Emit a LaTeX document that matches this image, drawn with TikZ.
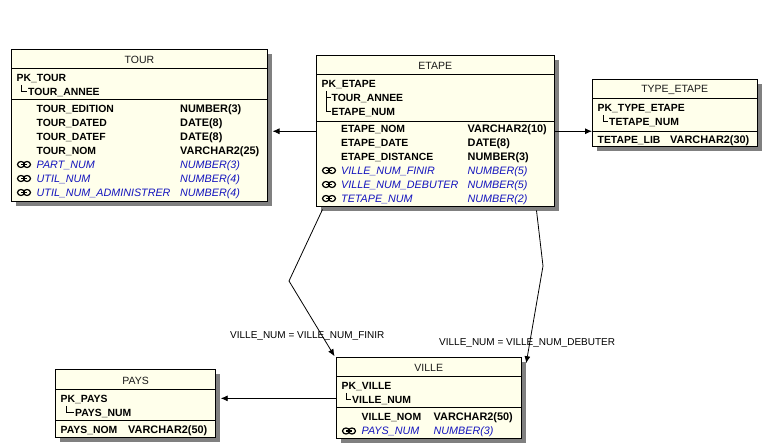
\documentclass[tikz,border=0pt]{standalone}
\usepackage{fontspec}
\setmainfont{Liberation Sans}
\usetikzlibrary{arrows.meta,shadows}
\definecolor{tablefill}{RGB}{255,255,235}
\definecolor{tableshade}{RGB}{128,128,128}
\definecolor{fkblue}{RGB}{20,20,190}
\tikzset{
    tablebox/.style={draw=black, line width=1pt, fill=tablefill, rectangle, inner sep=0pt,
        drop shadow={shadow xshift=4.5pt, shadow yshift=-4.5pt, fill=tableshade, opacity=1}},
    tabletitle/.style={font=\fontsize{10.5}{12}\selectfont, text=black!90, inner sep=0pt, yshift=-1pt},
    attr/.style={anchor=base west, inner sep=0pt, yshift=-1pt, font=\fontsize{10.4}{13}\selectfont\bfseries},
    attrtype/.style={attr, font=\fontsize{10.9}{13}\selectfont\bfseries},
    fkattr/.style={anchor=base west, inner sep=0pt, yshift=-1pt, text=fkblue, font=\fontsize{10.75}{13}\selectfont\itshape},
    fklabel/.style={anchor=base west, inner sep=0pt, yshift=-1pt, font=\fontsize{10}{12}\selectfont},
    fk/.style={line width=0.8pt, -{Latex[length=7pt,width=6pt]}}
}
\newcommand{\linkicon}[2]{%
    \draw[line width=1.2pt] (#1-3,#2) ellipse (3.5 and 3) (#1+3,#2) ellipse (3.5 and 3);
    \draw[line width=1.2pt] (#1-3,#2) -- (#1+3,#2);
}
\begin{document}
\begin{tikzpicture}[x=1pt,y=-1pt]
    \useasboundingbox (0,0) rectangle (764,446);

    % tables
    \node[tablebox, minimum width=256pt, minimum height=152pt] (tour) at (139.5,125.6) {};
    \node[tablebox, minimum width=237.5pt, minimum height=151.5pt] (etape) at (435.25,131.25) {};
    \node[tablebox, minimum width=164.5pt, minimum height=67.5pt] (typeetape) at (674.75,113.25) {};
    \node[tablebox, minimum width=184.5pt, minimum height=81.3pt] (ville) at (428.75,398.35) {};
    \node[tablebox, minimum width=160.2pt, minimum height=68pt] (pays) at (135.6,404) {};

    % header and key rules
    \foreach \tbl/\ya/\yb in {tour/68/99.5, etape/74.7/121, typeetape/98/131, ville/376/407, pays/389/420.7} {
        \draw[line width=0.9pt] (\tbl.west |- 0,\ya) -- (\tbl.east |- 0,\ya);
        \draw[line width=0.9pt] (\tbl.west |- 0,\yb) -- (\tbl.east |- 0,\yb);
    }

    % titles
    \node[tabletitle] (tourtitle) at (139.5,59) {TOUR};
    \node[tabletitle] (etapetitle) at (435.25,65) {ETAPE};
    \node[tabletitle] (typeetapetitle) at (674.75,89) {TYPE\_ETAPE};
    \node[tabletitle] (villetitle) at (428.75,367) {VILLE};
    \node[tabletitle] (paystitle) at (135.6,380) {PAYS};

    % primary keys
    \node[attr] (tourpk) at (16.5,81) {PK\_TOUR};
    \node[attr] (tourannee) at (28,95) {TOUR\_ANNEE};
    \draw (21,85) -- (21,91) -- (27,91);

    \node[attr] (etapepk) at (321.5,87) {PK\_ETAPE};
    \node[attr] (etapeannee) at (331.5,101) {TOUR\_ANNEE};
    \node[attr] (etapenum) at (331.5,115) {ETAPE\_NUM};
    \draw (326,91) -- (326,111) -- (331,111) (326,97) -- (331,97);

    \node[attr] (typepk) at (597.5,111) {PK\_TYPE\_ETAPE};
    \node[attr] (typenum) at (609,125) {TETAPE\_NUM};
    \draw (603,115) -- (603,121) -- (608,121);

    \node[attr] (villepk) at (341.5,389) {PK\_VILLE};
    \node[attr] (villenum) at (352,403) {VILLE\_NUM};
    \draw (346,393) -- (346,399) -- (351,399);

    \node[attr] (payspk) at (60.5,402) {PK\_PAYS};
    \node[attr] (paysnum) at (75,416) {PAYS\_NUM};
    \draw (66,406) -- (66,412) -- (74,412);

    % columns
    \foreach \i/\y/\colname/\coltype in {1/112/TOUR\_EDITION/NUMBER(3), 2/126/TOUR\_DATED/DATE(8),
        3/140/TOUR\_DATEF/DATE(8), 4/154/TOUR\_NOM/VARCHAR2(25)} {
        \node[attr] (tourname\i) at (36.5,\y) {\colname};
        \node[attrtype] (tourtype\i) at (180,\y) {\coltype};
    }
    \foreach \i/\y/\colname/\coltype in {5/168/PART\_NUM/NUMBER(3), 6/182/UTIL\_NUM/NUMBER(4),
        7/196/UTIL\_NUM\_ADMINISTRER/NUMBER(4)} {
        \node[fkattr] (tourname\i) at (36.5,\y) {\colname};
        \node[fkattr] (tourtype\i) at (180,\y) {\coltype};
        \linkicon{24}{\y-3.5}
    }
    \foreach \i/\y/\colname/\coltype in {1/132/ETAPE\_NOM/VARCHAR2(10), 2/146/ETAPE\_DATE/DATE(8),
        3/160/ETAPE\_DISTANCE/NUMBER(3)} {
        \node[attr] (etapename\i) at (341,\y) {\colname};
        \node[attrtype] (etapetype\i) at (467.5,\y) {\coltype};
    }
    \foreach \i/\y/\colname/\coltype in {4/174/VILLE\_NUM\_FINIR/NUMBER(5), 5/188/VILLE\_NUM\_DEBUTER/NUMBER(5),
        6/202/TETAPE\_NUM/NUMBER(2)} {
        \node[fkattr] (etapename\i) at (341,\y) {\colname};
        \node[fkattr] (etapetype\i) at (467.5,\y) {\coltype};
        \linkicon{329}{\y-3.5}
    }
    \node[attr] (typename) at (597.5,143) {TETAPE\_LIB};
    \node[attrtype] (typetype) at (670,143) {VARCHAR2(30)};
    \node[attr] (villename) at (361.5,420) {VILLE\_NOM};
    \node[attrtype] (villetype) at (433.5,420) {VARCHAR2(50)};
    \node[fkattr] (villefk) at (361.5,434) {PAYS\_NUM};
    \node[fkattr] (villefktype) at (433.5,434) {NUMBER(3)};
    \linkicon{349}{431}
    \node[attr] (paysname) at (60.5,433) {PAYS\_NOM};
    \node[attrtype] (paystype) at (128,433) {VARCHAR2(50)};

    % connectors
    \coordinate (finirbend) at (289,281);
    \coordinate (debuterbend) at (543,266);
    \draw[fk, shorten >=4.5pt] (etape.west) -- (tour.east |- etape.west);
    \draw[fk] (etape.east) -- (typeetape.west |- etape.east);
    \draw[fk, shorten >=4.5pt] (ville.west) -- (pays.east |- ville.west);
    \draw[fk] ([shift={(6.5,2)}]etape.south west) -- (finirbend) -- ([shift={(-1.5,-1)}]ville.north west);
    \draw[fk] ([shift={(-18,3)}]etape.south east) -- (debuterbend) -- ([shift={(4.7,6)}]ville.north east);

    \node[fklabel] (finirlabel) at (230,338) {VILLE\_NUM = VILLE\_NUM\_FINIR};
    \node[fklabel] (debuterlabel) at (439,345) {VILLE\_NUM = VILLE\_NUM\_DEBUTER};
\end{tikzpicture}
\end{document}
